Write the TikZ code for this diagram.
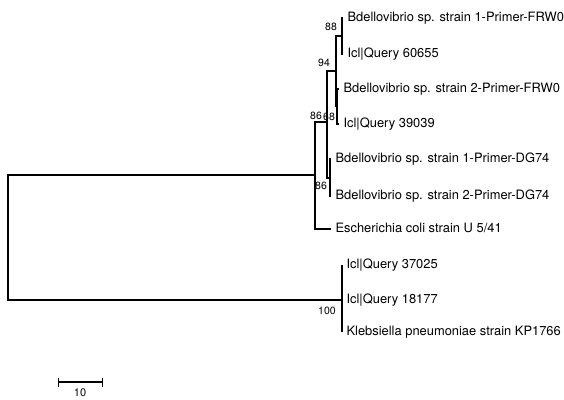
\documentclass[tikz,border=0pt]{standalone}
\usepackage{fontspec}
\setmainfont{TeX Gyre Heros}
\usetikzlibrary{positioning,arrows.meta}

\begin{document}
\begin{tikzpicture}[x=1bp,y=-1bp,line width=1.1bp,
  taxon/.style={inner sep=0pt,text height=0.72em,text depth=0pt,font=\fontsize{12.9bp}{14bp}\selectfont},
  boot/.style={inner sep=0pt,font=\fontsize{10.5bp}{12bp}\selectfont}]
\useasboundingbox (0,0) rectangle (564,399);
\pgfmathsetmacro{\gap}{4};

% internal nodes
\coordinate (root) at (8,238);
\coordinate (nIn) at (315,175);
\coordinate (nA) at (327,122);
\coordinate (n94) at (336,71);
\coordinate (n88) at (342,36);
\coordinate (n68) at (337,106);
\coordinate (nDG) at (330,178);
\coordinate (nKl) at (342,300);

% tips
\coordinate (t1) at (343,18);
\coordinate (t2) at (343,54);
\coordinate (t3) at (339,89);
\coordinate (t4) at (339,124);
\coordinate (t5) at (331,159);
\coordinate (t6) at (331,196);
\coordinate (t7) at (331,229);
\coordinate (t8) at (342,265);
\coordinate (t9) at (342,300);
\coordinate (t10) at (342,332);

% branches
\draw (root) |- (nIn);
\draw (root) |- (nKl);
\draw (nIn) |- (nA);
\draw (nIn) |- (t7);
\draw (nA) |- (n94);
\draw (nA) |- (nDG);
\draw (n94) |- (n88);
\draw (n94) |- (n68);
\draw (n88) |- (t1);
\draw (n88) |- (t2);
\draw (n68) |- (t3);
\draw (n68) |- (t4);
\draw (nDG) |- (t5);
\draw (nDG) |- (t6);
\draw (nKl) |- (t8);
\draw (nKl) |- (t9);
\draw (nKl) |- (t10);

% taxa
\node[taxon,right={\gap bp} of t1] (l1) {Bdellovibrio sp. strain 1-Primer-FRW0};
\node[taxon,right={\gap bp} of t2] (l2) {Icl|Query 60655};
\node[taxon,right={\gap bp} of t3] (l3) {Bdellovibrio sp. strain 2-Primer-FRW0};
\node[taxon,right={\gap bp} of t4] (l4) {Icl|Query 39039};
\node[taxon,right={\gap bp} of t5] (l5) {Bdellovibrio sp. strain 1-Primer-DG74};
\node[taxon,right={\gap bp} of t6] (l6) {Bdellovibrio sp. strain 2-Primer-DG74};
\node[taxon,right={\gap bp} of t7] (l7) {Escherichia coli strain U 5/41};
\node[taxon,right={\gap bp} of t8] (l8) {Icl|Query 37025};
\node[taxon,right={\gap bp} of t9] (l9) {Icl|Query 18177};
\node[taxon,right={\gap bp} of t10] (l10) {Klebsiella pneumoniae strain KP1766};

% bootstrap values
\node[boot] (b88) at (331,27) {88};
\node[boot] (b94) at (324,63) {94};
\node[boot] (bA) at (316,116) {86};
\node[boot] (b68) at (329,117) {68};
\node[boot] (bDG) at (321,186) {86};
\node[boot] (bKl) at (327,311) {100};

% scale bar
\coordinate (sa) at (58,382);
\coordinate (sb) at (103,382);
\draw[{Bar[width=9bp]}-{Bar[width=9bp]}] (sa) -- (sb);
\node[boot,font=\fontsize{11bp}{13bp}\selectfont] (sl) at (80,393) {10};
\end{tikzpicture}
\end{document}
